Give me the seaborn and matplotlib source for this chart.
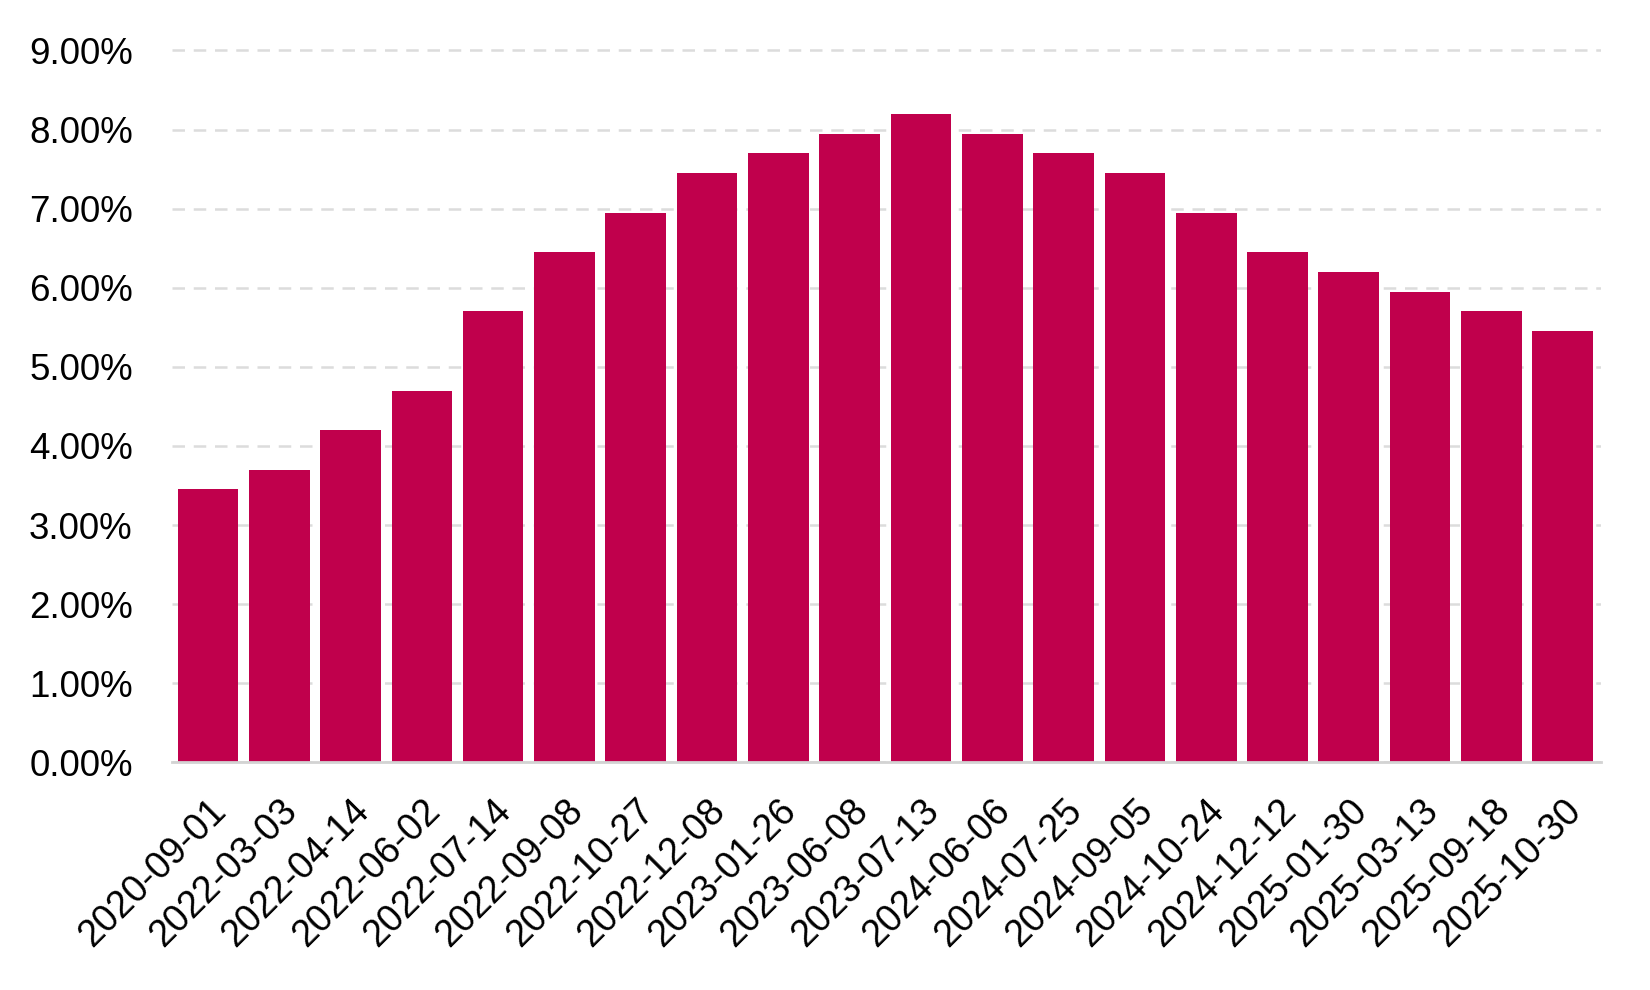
import matplotlib
matplotlib.use("Agg")
import matplotlib.pyplot as plt
import seaborn as sns
import pandas as pd


dates = ["2020-09-01", "2022-03-03", "2022-04-14", "2022-06-02", "2022-07-14",
         "2022-09-08", "2022-10-27", "2022-12-08", "2023-01-26", "2023-06-08",
         "2023-07-13", "2024-06-06", "2024-07-25", "2024-09-05", "2024-10-24",
         "2024-12-12", "2025-01-30", "2025-03-13", "2025-09-18", "2025-10-30"]
rates = [3.45, 3.70, 4.20, 4.70, 5.70,
         6.45, 6.95, 7.45, 7.70, 7.95,
         8.20, 7.95, 7.70, 7.45, 6.95,
         6.45, 6.20, 5.95, 5.70, 5.45]
yticks = [0, 1, 2, 3, 4, 5, 6, 7, 8, 9]


def main():

    sns.set_style("white")
    plt.rcParams["font.family"] = ["Liberation Sans", "DejaVu Sans"]

    df = pd.DataFrame({"date": dates, "rate": rates})

    fig = plt.figure(figsize=(16.5, 9.9), dpi=100)
    ax = fig.add_axes([0.104, 0.230, 0.866, 0.735])

    sns.barplot(data=df, x="date", y="rate", color="#c0004c", saturation=1,
                width=0.85, linewidth=0, ax=ax, zorder=2)

    ax.set_ylim(0, 9.2)
    ax.set_xlim(-0.51, len(dates) - 0.47)
    ax.set_yticks(yticks)
    ax.set_yticklabels(["{:.2f}%".format(v) for v in yticks])

    ax.yaxis.grid(True, color="#dcdcdc", linestyle=(0, (5, 3.5)), linewidth=1.8, zorder=0)
    ax.xaxis.grid(False)
    ax.set_axisbelow(True)

    for side in ["left", "top", "right"]:
        ax.spines[side].set_visible(False)
    ax.spines["bottom"].set_color("#d3d3d3")
    ax.spines["bottom"].set_linewidth(2)

    ax.tick_params(axis="y", length=0, pad=28, labelsize=26.5, colors="black")
    ax.tick_params(axis="x", length=0, pad=22, labelsize=27, colors="black")
    plt.setp(ax.get_xticklabels(), rotation=45, ha="right", rotation_mode="anchor")

    ax.set_xlabel("")
    ax.set_ylabel("")

    plt.savefig("out.png", dpi=100)


if __name__ == "__main__":
    main()
